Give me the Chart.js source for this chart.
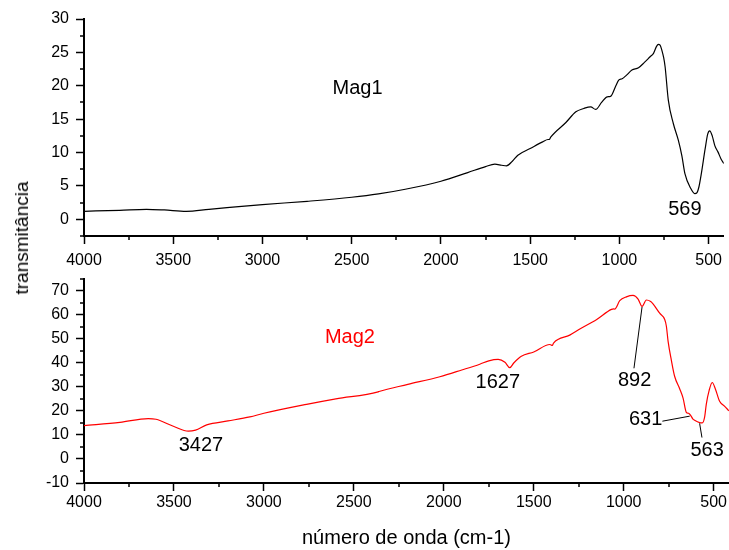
<!DOCTYPE html>
<html><head><meta charset="utf-8">
<script src="https://cdn.jsdelivr.net/npm/chart.js@4.4.0/dist/chart.umd.min.js"></script>
<style>
html,body{margin:0;padding:0;background:#fff;}
body{width:729px;height:550px;overflow:hidden;position:relative;font-family:"Liberation Sans",Arial,sans-serif;}
#w1{position:absolute;left:0;top:0;width:729px;height:280px;}
#w2{position:absolute;left:0;top:262px;width:729px;height:288px;}
#yt{position:absolute;left:22px;top:238px;transform:translate(-50%,-50%) rotate(-90deg);font-size:19px;color:#000;white-space:nowrap;}
</style></head>
<body>
<div id="w2"><canvas id="c2"></canvas></div>
<div id="w1"><canvas id="c1"></canvas></div>
<div id="yt">transmitância</div>
<script>
// ---- data ----
const mag1Wavenumber = [4000,3800,3650,3550,3427,3300,3150,3000,2750,2500,2350,2200,2000,1850,1750,1698,1660,1633,1600,1569,1500,1430,1400,1393,1385,1300,1244,1200,1161,1133,1100,1068,1050,1020,1004,985,960,930,893,860,828,809,792,782,772,762,752,744,726,698,670,650,633,600,578,565,555,541,520,505,494,480,465,448,430,415];
const mag1Trans      = [1.2,1.35,1.5,1.4,1.2,1.5,1.85,2.2,2.7,3.3,3.8,4.5,5.7,7.0,7.9,8.25,8.1,8.0,8.7,9.6,10.6,11.6,11.95,11.95,12.3,14.5,16.1,16.6,16.85,16.45,17.5,18.35,18.4,20.0,20.85,21.05,21.6,22.35,22.7,23.5,24.35,24.85,25.9,26.2,26.1,25.3,24.2,22.85,17.85,14.35,11.85,9.5,6.85,4.6,3.85,4.0,4.8,6.85,10.5,12.8,13.25,12.5,11.0,10.1,9.0,8.35];

const mag2Wavenumber = [4000,3800,3643,3600,3500,3420,3380,3318,3200,3078,3000,2763,2600,2365,2360,2200,2022,1900,1800,1750,1698,1660,1633,1610,1569,1500,1410,1397,1390,1300,1244,1150,1068,1055,1050,1022,985,948,920,898,874,850,837,800,772,763,753,735,717,689,670,652,640,630,615,606,578,563,550,541,525,508,490,467,440,415];
const mag2Trans      = [13.9,15.2,16.8,16.5,13.5,11.55,12.0,14.2,15.8,17.5,19.0,22.7,25.0,27.9,28.05,31.0,34.2,37.0,39.4,40.8,41.4,40.2,37.95,40.0,42.7,44.5,47.6,47.2,48.2,51.5,54.0,58.0,62.2,62.4,62.3,65.8,67.4,68.0,66.5,63.45,66.1,65.5,64.5,60.6,58.0,55.3,48.8,41.0,34.4,29.2,25.3,19.4,19.0,18.35,16.6,16.1,15.1,15.0,17.5,22.7,28.5,31.8,29.0,24.0,22.0,20.0];

const xMajorTicks = [4000,3500,3000,2500,2000,1500,1000,500];
const xMinorTicks = [3750,3250,2750,2250,1750,1250,750];
const y1MajorTicks = [0,5,10,15,20,25,30];
const y1MinorTicks = [-2.5,2.5,7.5,12.5,17.5,22.5,27.5];
const y2MajorTicks = [-10,0,10,20,30,40,50,60,70];
const y2MinorTicks = [-5,5,15,25,35,45,55,65,75];

// ---- plugins ----
const minorTicks = {
  id:'minorTicks',
  afterDraw(chart, args, opts){
    const ctx = chart.ctx, xs = chart.scales.x, ys = chart.scales.y;
    ctx.save(); ctx.strokeStyle = '#000'; ctx.lineWidth = 1.5;
    ctx.beginPath();
    (opts.x||[]).forEach(v=>{
      const p = Math.round(xs.getPixelForValue(v));
      ctx.moveTo(p, ys.bottom); ctx.lineTo(p, ys.bottom + opts.len);
    });
    (opts.y||[]).forEach(v=>{
      const p = Math.round(ys.getPixelForValue(v));
      ctx.moveTo(xs.left, p); ctx.lineTo(xs.left - opts.len, p);
    });
    ctx.stroke(); ctx.restore();
  }
};
const notes = {
  id:'notes',
  afterDatasetsDraw(chart, args, opts){
    const ctx = chart.ctx, xs = chart.scales.x, ys = chart.scales.y;
    ctx.save();
    (opts.lines||[]).forEach(l=>{
      ctx.beginPath(); ctx.strokeStyle = '#000'; ctx.lineWidth = 1;
      ctx.moveTo(xs.getPixelForValue(l[0]), ys.getPixelForValue(l[1]));
      ctx.lineTo(xs.getPixelForValue(l[2]), ys.getPixelForValue(l[3]));
      ctx.stroke();
    });
    (opts.labels||[]).forEach(t=>{
      ctx.font = '20px "Liberation Sans", Arial, sans-serif';
      ctx.fillStyle = t.color || '#000';
      ctx.textAlign = 'center'; ctx.textBaseline = 'middle';
      ctx.fillText(t.text, xs.getPixelForValue(t.x), ys.getPixelForValue(t.y));
    });
    ctx.restore();
  }
};

const FONT = {family:'"Liberation Sans", Arial, sans-serif', size:16};
const fmt = v => String(v);

function xScale(tickPad, height, title){
  return {
    type:'linear', reverse:true, min:415, max:4000,
    afterBuildTicks(s){ s.ticks = xMajorTicks.map(v=>({value:v})); },
    afterFit(s){ s.height = height; },
    grid:{display:true, drawOnChartArea:false, drawTicks:true, tickLength:8, tickColor:'#000', tickWidth:1.5},
    border:{display:true, color:'#000', width:2},
    ticks:{color:'#000', font:FONT, padding:tickPad, maxRotation:0, autoSkip:false, callback:fmt},
    title: title ? {display:true, text:title, color:'#000', font:{family:FONT.family, size:20}, padding:{top:0,bottom:0}} : {display:false}
  };
}
function yScale(min, max, ticks){
  return {
    type:'linear', min:min, max:max,
    afterBuildTicks(s){ s.ticks = ticks.map(v=>({value:v})); },
    afterFit(s){ s.width = 84; },
    grid:{display:true, drawOnChartArea:false, drawTicks:true, tickLength:8, tickColor:'#000', tickWidth:1.5},
    border:{display:true, color:'#000', width:2},
    ticks:{color:'#000', font:FONT, padding:7, autoSkip:false, callback:fmt}
  };
}

const pts = (xs, ys) => xs.map((x,i)=>({x:x, y:ys[i]}));

new Chart(document.getElementById('c1'), {
  type:'line',
  data:{datasets:[{data:pts(mag1Wavenumber, mag1Trans), borderColor:'#000', borderWidth:1.2, pointRadius:0, cubicInterpolationMode:'monotone', fill:false}]},
  options:{
    responsive:true, maintainAspectRatio:false, animation:false,
    layout:{padding:{top:19, right:0, left:0, bottom:0}},
    plugins:{legend:{display:false}, tooltip:{enabled:false},
      minorTicks:{x:xMinorTicks, y:y1MinorTicks, len:4},
      notes:{labels:[{text:'Mag1', x:2467, y:19.65},{text:'569', x:633, y:1.5}]}},
    scales:{x:xScale(7, 44), y:yScale(-2.5, 30, y1MajorTicks)}
  },
  plugins:[minorTicks, notes]
});

new Chart(document.getElementById('c2'), {
  type:'line',
  data:{datasets:[{data:pts(mag2Wavenumber, mag2Trans), borderColor:'#ff0000', borderWidth:1.2, pointRadius:0, cubicInterpolationMode:'monotone', fill:false}]},
  options:{
    responsive:true, maintainAspectRatio:false, animation:false,
    layout:{padding:{top:5, right:0, left:0, bottom:0}},
    plugins:{legend:{display:false}, tooltip:{enabled:false},
      minorTicks:{x:xMinorTicks, y:y2MinorTicks, len:4},
      notes:{
        labels:[{text:'Mag2', x:2522, y:50.5, color:'#ff0000'},{text:'3427', x:3350, y:5.4},{text:'1627', x:1700, y:31.7},{text:'892', x:939, y:32.5},{text:'631', x:878, y:16.4},{text:'563', x:536, y:3.5}],
        lines:[[898,63.2,943,37.7],[785,15.7,633,17.8],[578,14.8,565,8.9]]
      }},
    scales:{x:xScale(2, 67, 'número de onda (cm-1)'), y:yScale(-10, 75, y2MajorTicks)}
  },
  plugins:[minorTicks, notes]
});
</script>
</body></html>
